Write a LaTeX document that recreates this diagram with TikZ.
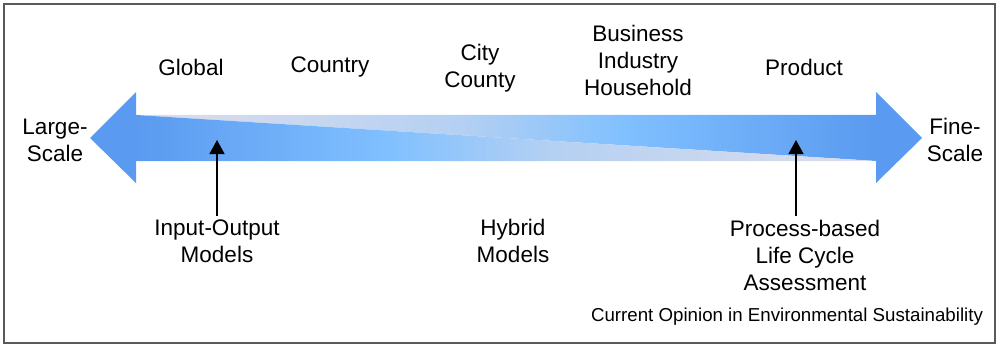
\documentclass[tikz,border=0pt]{standalone}
\usepackage{fontspec}
\setmainfont{Liberation Sans}
\usetikzlibrary{arrows.meta}
\definecolor{arrowblue}{HTML}{5A9AF0}
\definecolor{arrowsky}{HTML}{80C0FF}
\definecolor{arrowpale}{HTML}{B4D0F2}
\definecolor{arrowgray}{HTML}{DEDEEC}
\pgfdeclarehorizontalshading{lowfade}{100bp}{color(0bp)=(arrowblue); color(25bp)=(arrowblue); color(42bp)=(arrowsky); color(53bp)=(arrowpale); color(75bp)=(arrowgray); color(100bp)=(arrowgray)}
\pgfdeclarehorizontalshading{highfade}{100bp}{color(0bp)=(arrowgray); color(25bp)=(arrowgray); color(47bp)=(arrowpale); color(58bp)=(arrowsky); color(75bp)=(arrowblue); color(100bp)=(arrowblue)}
\begin{document}
\begin{tikzpicture}[x=1pt,y=-1pt,
  scalelbl/.style={font=\fontsize{22.5}{27}\selectfont, align=center},
  pointer/.style={line width=1.3pt, -{Triangle[width=15pt,length=14pt]}}]
\useasboundingbox (0,0) rectangle (1000,350);
\draw[black!65, line width=1.5pt] (4,4) rectangle (995,343);
% the big double arrow
\fill[arrowblue] (136,92) -- (90,138) -- (136,183) -- cycle;
\fill[arrowblue] (876,92) -- (922,138) -- (876,183) -- cycle;
\shade[shading=highfade] (136,115) -- (876,115) -- (876,161) -- cycle;
\shade[shading=lowfade] (136,115) -- (136,161) -- (876,161) -- cycle;
% ends
\node[scalelbl] (large) at (55,140) {Large-\\Scale};
\node[scalelbl] (fine) at (955,140) {Fine-\\Scale};
% scales above
\foreach \pos/\hgt/\name/\txt in {191/67/global/Global, 330/67/country/Country,
    480/68/city/{City\\County}, 638/60/business/{Business\\Industry\\Household},
    804/67/product/Product}
  \node[scalelbl] (\name) at (\pos,\hgt) {\txt};
% models below
\node[scalelbl] (io) at (217,241) {Input-Output\\Models};
\node[scalelbl] (hybrid) at (513,241) {Hybrid\\Models};
\node[scalelbl] (lca) at (805,255) {Process-based\\Life Cycle\\Assessment};
\node[font=\fontsize{18.7}{22}\selectfont] (journal) at (787,317) {Current Opinion in Environmental Sustainability};
\coordinate (iotip) at (217,140);
\coordinate (lcatip) at (796,140);
\draw[pointer] (io.north) -- (iotip);
\draw[pointer] (lcatip |- lca.north) -- (lcatip);
\end{tikzpicture}
\end{document}
